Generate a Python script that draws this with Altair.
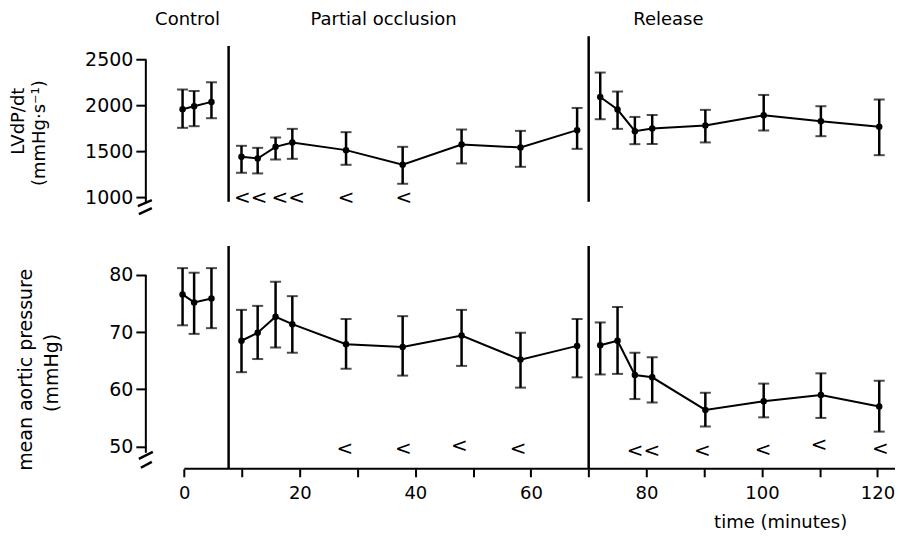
import altair as alt
import pandas as pd

FONT = "DejaVu Sans"

# ---------------- data ----------------
t_control = [-0.3, 1.7, 4.7]
t_partial = [9.9, 12.7, 15.8, 18.7, 28, 37.8, 48, 58.2, 68]
t_release = [72, 75, 78, 81, 90.2, 100.3, 110.2, 120.3]

# LVdP/dt (mmHg/s)
lv_mean_control = [1958, 1991, 2038]
lv_hi_control = [2173, 2157, 2252]
lv_lo_control = [1755, 1773, 1860]
lv_mean_partial = [1439, 1421, 1548, 1596, 1512, 1352, 1574, 1541, 1730]
lv_hi_partial = [1559, 1537, 1650, 1744, 1708, 1548, 1737, 1722, 1972]
lv_lo_partial = [1265, 1258, 1410, 1417, 1352, 1145, 1367, 1330, 1526]
lv_mean_release = [2092, 1955, 1719, 1748, 1781, 1893, 1828, 1766]
lv_hi_release = [2358, 2151, 1874, 1896, 1951, 2114, 1991, 2064]
lv_lo_release = [1849, 1744, 1577, 1580, 1596, 1726, 1664, 1457]

# mean aortic pressure (mmHg)
ap_mean_control = [76.6, 75.2, 75.9]
ap_hi_control = [81.2, 80.4, 81.2]
ap_lo_control = [71.2, 69.7, 70.7]
ap_mean_partial = [68.5, 69.9, 72.7, 71.4, 67.9, 67.4, 69.4, 65.2, 67.6]
ap_hi_partial = [73.9, 74.6, 78.8, 76.3, 72.3, 72.8, 73.9, 69.9, 72.3]
ap_lo_partial = [63.0, 65.3, 67.3, 66.4, 63.6, 62.4, 64.1, 60.3, 62.1]
ap_mean_release = [67.7, 68.5, 62.5, 62.1, 56.4, 57.9, 59.0, 57.0]
ap_hi_release = [71.7, 74.4, 66.4, 65.6, 59.4, 61.0, 62.8, 61.5]
ap_lo_release = [62.6, 62.7, 58.3, 57.7, 53.5, 55.1, 55.0, 52.6]

# significance markers (adjacent pairs printed as "<<")
sig_top_s = ["<<", "<<", "<", "<"]
sig_top_t = [11.5, 18.0, 28.0, 38.0]
sig_top_y = [990, 990, 990, 990]
sig_bot_s = ["<", "<", "<", "<", "<<", "<", "<", "<", "<"]
sig_bot_t = [27.8, 37.9, 47.6, 57.8, 79.5, 89.7, 100.2, 109.9, 120.5]
sig_bot_y = [49.55, 49.55, 50.0, 49.55, 49.28, 49.16, 49.42, 50.2, 49.56]

# phase labels and boundaries
phase_names = ["Control", "Partial occlusion", "Release"]
phase_label_t = [0.57, 34.5, 83.8]
phase_bound_t = [7.67, 70]
phase_bound_top_lv = [2648, 2754]

x_ticks = list(range(0, 121, 10))
lv_ticks = [1000, 1500, 2000, 2500]
ap_ticks = [50, 60, 70, 80]

# ---------------- tables ----------------
def table(tc, tp, tr, mc, mp, mr, hc, hp, hr, lc, lp, lr):
    rows = []
    for ph, ts, ms, hs, ls in [("control", tc, mc, hc, lc),
                               ("partial", tp, mp, hp, lp),
                               ("release", tr, mr, hr, lr)]:
        for t, m, h, l in zip(ts, ms, hs, ls):
            rows.append({"phase": ph, "t": t, "mean": m, "hi": h, "lo": l})
    return pd.DataFrame(rows)

lv = table(t_control, t_partial, t_release,
           lv_mean_control, lv_mean_partial, lv_mean_release,
           lv_hi_control, lv_hi_partial, lv_hi_release,
           lv_lo_control, lv_lo_partial, lv_lo_release)
ap = table(t_control, t_partial, t_release,
           ap_mean_control, ap_mean_partial, ap_mean_release,
           ap_hi_control, ap_hi_partial, ap_hi_release,
           ap_lo_control, ap_lo_partial, ap_lo_release)

sig_top = pd.DataFrame({"t": sig_top_t, "y": sig_top_y, "s": sig_top_s})
sig_bot = pd.DataFrame({"t": sig_bot_t, "y": sig_bot_y, "s": sig_bot_s})
labels = pd.DataFrame({"t": phase_label_t, "name": phase_names})
bounds_top = pd.DataFrame({"t": phase_bound_t, "y": phase_bound_top_lv,
                           "y2": [948.8, 948.8]})
bounds_bot = pd.DataFrame({"t": phase_bound_t})
one = pd.DataFrame({"a": [0]})

# ---------------- layout ----------------
W = 750
H_TOP = 208
H_BOT = 223
X_MIN, X_MAX = -6.657, 123.03
xscale = alt.Scale(domain=[X_MIN, X_MAX], nice=False, zero=False)
top_scale = alt.Scale(domain=[793.0, 3058.8], nice=False, zero=False)
bot_scale = alt.Scale(domain=[46.104, 85.067], nice=False, zero=False)

top_xaxis = alt.Axis(values=x_ticks, labels=False, ticks=False, domain=False,
                     grid=False, title=None)
bot_xaxis = alt.Axis(values=x_ticks, domain=False, grid=False, tickSize=8, tickWidth=2,
                     tickColor="black", labelFontSize=18, labelPadding=8,
                     labelColor="black",
                     labelExpr="datum.value % 20 === 0 ? datum.label : ''",
                     title="time (minutes)", titleFontSize=18, titleFontWeight="normal",
                     titleColor="black", titleX=635, titleY=54, titleBaseline="middle",
                     titleAlign="center")


def make_yaxis(ticks):
    return alt.Axis(values=ticks, format="d", domain=False, grid=False, tickSize=10,
                    tickWidth=2, tickColor="black", labelFontSize=19,
                    labelPadding=3, labelColor="black", title=None)


def panel(df, yscale, yaxis, xaxis, sig, axis_top, axis_bot):
    def X(field="t"):
        return alt.X(f"{field}:Q", scale=xscale, axis=xaxis)

    def Y(field):
        return alt.Y(f"{field}:Q", scale=yscale, axis=yaxis)

    base = alt.Chart(df)
    line = base.mark_line(color="black", strokeWidth=2).encode(
        x=X(), y=Y("mean"), detail="phase:N")
    pts = base.mark_circle(size=42, color="black", opacity=1).encode(
        x=X(), y=Y("mean"))
    err = base.mark_rule(color="black", strokeWidth=2.5).encode(
        x=X(), y=Y("lo"), y2="hi:Q")
    cap_hi = base.mark_tick(color="black", orient="horizontal", size=11,
                            thickness=2).encode(x=X(), y=Y("hi"))
    cap_lo = base.mark_tick(color="black", orient="horizontal", size=11,
                            thickness=2).encode(x=X(), y=Y("lo"))
    marks = alt.Chart(sig).mark_text(fontSize=20, font=FONT, color="black",
                                     baseline="middle").encode(
        x=X(), y=Y("y"), text="s:N")
    axis_line = alt.Chart(pd.DataFrame({"y": [axis_top], "y2": [axis_bot]})).mark_rule(
        color="black", strokeWidth=2).encode(
        x=alt.value(0), y=Y("y"), y2="y2:Q")
    return [line, pts, err, cap_hi, cap_lo, marks, axis_line], X, Y


def brk(x1, y1, x2, y2):
    return alt.Chart(one).mark_rule(color="black", strokeWidth=2.5).encode(
        x=alt.value(x1), y=alt.value(y1), x2=alt.value(x2), y2=alt.value(y2))


def title_text(txt, x, y, size):
    return alt.Chart(one).mark_text(text=txt, angle=270, fontSize=size, font=FONT,
                                    color="black", baseline="middle",
                                    align="center").encode(
        x=alt.value(x), y=alt.value(y))


# top panel
top_layers, XT, YT = panel(lv, top_scale, make_yaxis(lv_ticks), top_xaxis,
                           sig_top, 2500, 935)
top_bounds = alt.Chart(bounds_top).mark_rule(color="black", strokeWidth=2.5).encode(
    x=XT(), y=YT("y"), y2="y2:Q")
top_labels = alt.Chart(labels).mark_text(fontSize=18, font=FONT, color="black",
                                         baseline="middle").encode(
    x=XT(), y=alt.value(12), text="name:N")
top = alt.layer(
    *top_layers, top_bounds, top_labels,
    brk(-8, 198, 6, 192), brk(-7, 206, 6, 200),
    title_text("LVdP/dt", -127, 113, 18),
    title_text("(mmHg·s⁻¹)", -106, 125, 18),
).properties(width=W, height=H_TOP)

# bottom panel
bot_layers, XB, YB = panel(ap, bot_scale, make_yaxis(ap_ticks), bot_xaxis,
                           sig_bot, 80, 48.9)
bot_bounds = alt.Chart(bounds_bot).mark_rule(color="black", strokeWidth=2.5).encode(
    x=XB(), y=alt.value(0), y2=alt.value(H_BOT))
x_line = alt.Chart(pd.DataFrame({"t": [0], "t2": [X_MAX]})).mark_rule(
    color="black", strokeWidth=2).encode(
    x=XB(), x2="t2:Q", y=alt.value(H_BOT))
bottom = alt.layer(
    *bot_layers, bot_bounds, x_line,
    brk(-7, 213, 7, 206), brk(-5, 222, 6, 216),
    title_text("mean aortic pressure", -120, 124, 19),
    title_text("(mmHg)", -94, 127, 19),
).properties(width=W, height=H_BOT)

chart = alt.vconcat(top, bottom, spacing=30, bounds="flush").properties(
    padding={"left": 2, "top": 0, "right": 0, "bottom": 0},
    background="white"
).configure_view(strokeWidth=0).configure_axis(
    labelFont=FONT, titleFont=FONT
)

chart.save("out.html", embed_options={"renderer": "svg", "actions": False})
